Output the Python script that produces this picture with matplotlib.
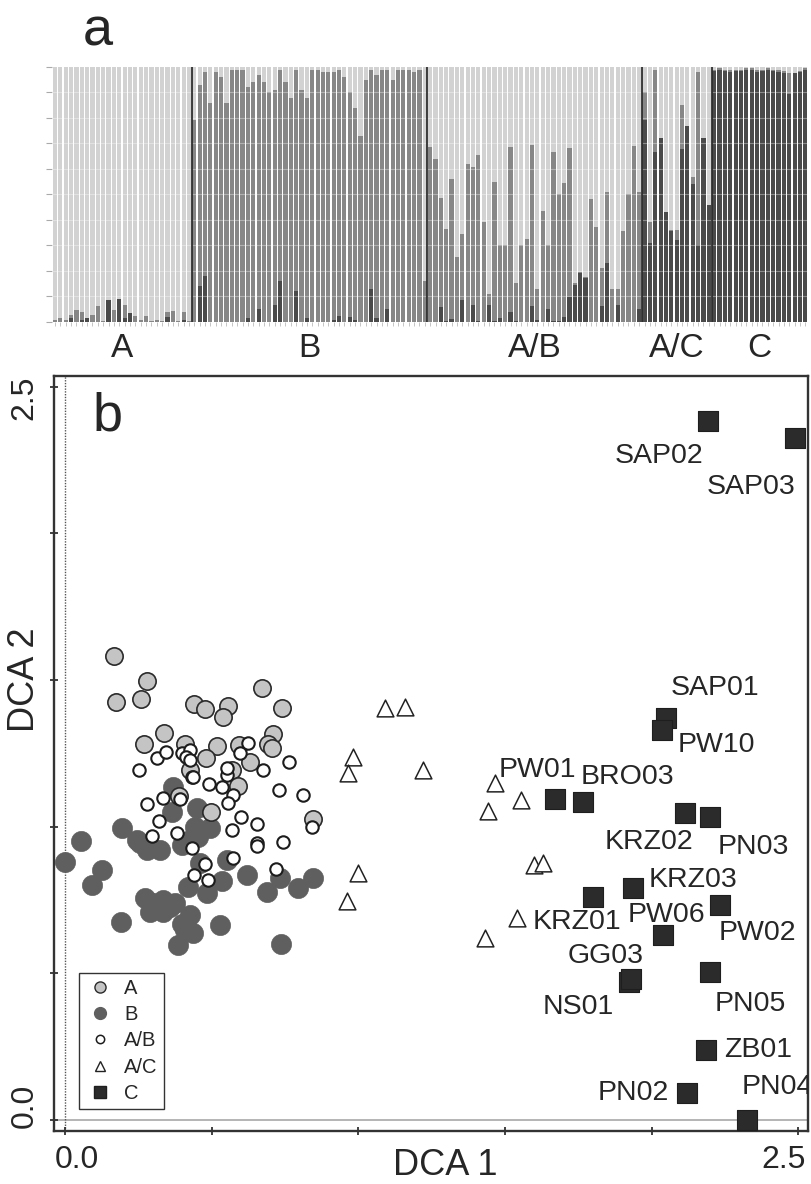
import matplotlib
matplotlib.use('Agg')
import matplotlib.pyplot as plt
from matplotlib.lines import Line2D
import numpy as np

plt.rcParams['font.family'] = ['Liberation Sans', 'DejaVu Sans']

# ---------------- Panel a data (membership fractions) ----------------
group_names = ['A', 'B', 'A/B', 'A/C', 'C']
# dark (cluster C) share and cumulative (C + B) share per individual
grpA_dark = [0, 0, 0, 0.013, 0, 0.007, 0.013, 0, 0, 0, 0.085, 0, 0.089, 0.016, 0.033,
             0, 0, 0, 0, 0, 0, 0.02, 0, 0, 0.007, 0]
grpA_top = [0.007, 0.016, 0.007, 0.026, 0.046, 0.037, 0.013, 0.026, 0.063, 0.003, 0.085,
            0.046, 0.089, 0.065, 0.033, 0.024, 0.007, 0.024, 0.003, 0.005, 0.003, 0.039,
            0.043, 0.003, 0.037, 0.003]
grpB_dark = [0, 0.14, 0.18, 0, 0, 0, 0, 0, 0, 0, 0.013, 0, 0.05, 0, 0, 0.065, 0.16, 0, 0,
             0.12, 0, 0.013, 0, 0, 0, 0, 0.005, 0.022, 0, 0.017, 0.007, 0, 0, 0.127, 0.016,
             0, 0.05, 0, 0, 0, 0, 0, 0, 0]
grpB_top = [0.79, 0.93, 0.98, 0.86, 0.98, 0.96, 0.86, 0.99, 0.99, 0.99, 0.92, 0.94, 0.97,
            0.94, 0.90, 0.91, 0.99, 0.94, 0.88, 0.99, 0.91, 0.88, 0.99, 0.99, 0.98, 0.98,
            0.98, 0.99, 0.96, 0.90, 0.84, 0.73, 0.95, 0.99, 0.97, 0.99, 0.99, 0.95, 0.99,
            0.99, 0.99, 0.98, 0.99, 0.16]
grpAB_dark = [0, 0, 0.059, 0.004, 0.009, 0, 0.085, 0, 0.065, 0.004, 0, 0.065, 0.004, 0.013,
              0, 0.037, 0.004, 0, 0, 0.063, 0.006, 0, 0.048, 0.004, 0.004, 0.02, 0.098,
              0.144, 0.19, 0.17, 0, 0, 0.06, 0.23, 0, 0.065, 0, 0, 0, 0.05]
grpAB_top = [0.687, 0.637, 0.487, 0.364, 0.559, 0.255, 0.343, 0.62, 0.606, 0.653, 0.393,
             0.109, 0.55, 0.30, 0.30, 0.687, 0.15, 0.30, 0.323, 0.694, 0.13, 0.435, 0.30,
             0.667, 0.50, 0.546, 0.683, 0.15, 0.196, 0.177, 0.48, 0.37, 0.21, 0.51, 0.13,
             0.127, 0.357, 0.50, 0.69, 0.51]
grpAC_dark = [0.79, 0.31, 0.665, 0.72, 0.43, 0.355, 0.32, 0.68, 0.77, 0.54, 0.30, 0.72, 0.46]
grpAC_top = [0.90, 0.39, 0.99, 0.72, 0.43, 0.36, 0.36, 0.85, 0.77, 0.57, 0.98, 0.72, 0.46]
grpC_dark = [0.985, 0.99, 0.985, 0.98, 0.985, 0.985, 0.99, 0.99, 0.98, 0.985, 0.99, 0.985,
             0.98, 0.975, 0.895, 0.975, 0.98, 0.99]
grpC_top = [0.99, 0.995, 0.99, 0.99, 0.99, 0.99, 0.995, 0.995, 0.99, 0.99, 0.995, 0.99,
            0.99, 0.985, 0.975, 0.975, 0.985, 0.995]

# ---------------- Panel b data (DCA scores) ----------------
A_x = [0.168, 0.278, 0.174, 0.258, 0.441, 0.478, 0.557, 0.538, 0.673, 0.741, 0.338, 0.270,
       0.409, 0.517, 0.593, 0.708, 0.693, 0.705, 0.481, 0.631, 0.568, 0.426, 0.589, 0.390,
       0.498, 0.847]
A_y = [1.582, 1.497, 1.424, 1.434, 1.420, 1.400, 1.413, 1.375, 1.474, 1.406, 1.320, 1.281,
       1.281, 1.275, 1.278, 1.316, 1.281, 1.270, 1.235, 1.222, 1.193, 1.195, 1.140, 1.105,
       1.051, 1.025]
B_x = [0.000, 0.053, 0.125, 0.091, 0.195, 0.190, 0.369, 0.364, 0.449, 0.256, 0.278, 0.324,
       0.398, 0.443, 0.494, 0.455, 0.460, 0.420, 0.483, 0.534, 0.551, 0.619, 0.688, 0.733,
       0.795, 0.844, 0.273, 0.335, 0.375, 0.290, 0.335, 0.426, 0.438, 0.386, 0.528, 0.735,
       0.398, 0.301, 0.426, 0.358, 0.409, 0.244]
B_y = [0.881, 0.951, 0.852, 0.803, 0.997, 0.676, 1.136, 1.051, 1.063, 0.943, 0.920, 0.920,
       0.938, 1.000, 0.997, 0.966, 0.875, 0.795, 0.773, 0.816, 0.886, 0.835, 0.778, 0.824,
       0.790, 0.824, 0.756, 0.750, 0.739, 0.710, 0.710, 0.699, 0.636, 0.597, 0.665, 0.600,
       0.670, 0.739, 0.955, 0.727, 0.648, 0.955]
AB_x = [0.252, 0.315, 0.343, 0.398, 0.426, 0.413, 0.625, 0.597, 0.676, 0.765, 0.492, 0.534,
        0.551, 0.572, 0.557, 0.432, 0.335, 0.281, 0.322, 0.295, 0.381, 0.600, 0.656, 0.568,
        0.653, 0.656, 0.742, 0.731, 0.813, 0.841, 0.574, 0.477, 0.440, 0.489, 0.719, 0.432,
        0.392, 0.426, 0.551, 0.438]
AB_y = [1.195, 1.233, 1.256, 1.252, 1.261, 1.239, 1.286, 1.250, 1.195, 1.222, 1.145, 1.134,
        1.176, 1.108, 1.080, 1.168, 1.097, 1.076, 1.019, 0.968, 0.977, 1.032, 1.011, 0.989,
        0.945, 0.934, 0.947, 1.125, 1.108, 0.998, 0.895, 0.873, 0.835, 0.818, 0.855, 0.926,
        1.093, 1.227, 1.199, 1.170]
AC_x = [1.091, 1.159, 0.982, 0.965, 1.221, 1.466, 1.442, 1.555, 1.599, 1.630, 0.999, 0.961,
        1.541, 1.432]
AC_y = [1.405, 1.408, 1.238, 1.183, 1.193, 1.149, 1.054, 1.091, 0.869, 0.876, 0.842, 0.747,
        0.689, 0.621]
C_names = ['SAP02', 'SAP03', 'SAP01', 'PW10', 'PW01', 'BRO03', 'KRZ02', 'PN03', 'KRZ03',
           'KRZ01', 'PW02', 'PW06', 'PN05', 'NS01', 'GG03', 'ZB01', 'PN02', 'PN04']
C_x = [2.192, 2.489, 2.049, 2.034, 1.671, 1.766, 2.114, 2.200, 1.937, 1.800, 2.234, 2.039,
       2.199, 1.923, 1.930, 2.185, 2.121, 2.325]
C_y = [2.383, 2.325, 1.371, 1.330, 1.094, 1.084, 1.047, 1.033, 0.791, 0.760, 0.733, 0.631,
       0.506, 0.471, 0.481, 0.239, 0.091, 0.000]
# label offsets (pixels right, pixels down) from each square
C_label_off = [(-49, 35), (-44, 49), (49, -30), (55, 15), (-18, -29), (44, -25), (-36, 29),
               (43, 30), (60, -8), (-16, 25), (37, 28), (3, -20), (40, 32), (-51, 25),
               (-25, -23), (52, 0), (-54, 0), (30, -33)]

W, H = 811, 1184
fig = plt.figure(figsize=(W / 100, H / 100), dpi=100)
txt_col = '#262626'

# ================= Panel a =================
axa = fig.add_axes([52.3 / W, (H - 321.7) / H, (808 - 52.3) / W, 254.7 / H])
darks = [grpA_dark, grpB_dark, grpAB_dark, grpAC_dark, grpC_dark]
tops = [grpA_top, grpB_top, grpAB_top, grpAC_top, grpC_top]
dark_all = np.concatenate([np.array(d, float) for d in darks])
top_all = np.concatenate([np.array(t, float) for t in tops])
n = len(dark_all)
xs = np.arange(n)
c_light, c_mid, c_dark = '#d2d2d2', '#878787', '#4a4a4a'
bw = 0.78
axa.bar(xs, np.ones(n), width=bw, color=c_light, linewidth=0, zorder=1)
axa.bar(xs, top_all - dark_all, bottom=dark_all, width=bw, color=c_mid, linewidth=0, zorder=2)
axa.bar(xs, dark_all, width=bw, color=c_dark, linewidth=0, zorder=3)
for yy in np.arange(0.1, 1.0, 0.1):
    axa.axhline(yy, color='white', lw=0.8, alpha=0.35, zorder=4)

sizes = [len(d) for d in darks]
bounds = np.cumsum(sizes)
for b in bounds[:-1]:
    axa.axvline(b - 0.5, color='#2e2e2e', lw=1.3, zorder=5)
starts = np.concatenate([[0], bounds[:-1]])
for name, s, sz in zip(group_names, starts, sizes):
    axa.text(s + sz / 2 - 0.5, -0.107, name, transform=axa.get_xaxis_transform(),
             ha='center', va='center', fontsize=24, color=txt_col)

axa.set_xlim(-0.5, n - 0.5)
axa.set_ylim(0, 1)
for sp in axa.spines.values():
    sp.set_visible(False)
axa.set_yticks(np.arange(0, 1.01, 0.1))
axa.set_yticklabels([])
axa.set_xticks(xs)
axa.set_xticklabels([])
axa.tick_params(axis='y', length=4.5, width=0.8, color='#aaaaaa', direction='out')
axa.tick_params(axis='x', length=3, width=0.6, color='#bbbbbb', direction='out')

fig.text(83 / W, (H - 45) / H, 'a', fontsize=39, color=txt_col, ha='left', va='baseline')

# ================= Panel b =================
axb = fig.add_axes([54.3 / W, (H - 1130.7) / H, (808 - 54.3) / W, (1130.7 - 376) / H])
axb.set_xlim(-0.0365, 2.533)
axb.set_ylim(-0.0365, 2.537)

axb.axhline(0, color='#a8a8a8', lw=1.2, zorder=0)
axb.axvline(0, color='#555555', lw=1.0, ls=(0, (1, 1)), zorder=0)

axb.scatter(B_x, B_y, s=210, marker='o', facecolor='#5f5f5f', edgecolor='#5f5f5f',
            linewidths=0.5, zorder=2)
axb.scatter(A_x, A_y, s=155, marker='o', facecolor='#c4c4c4', edgecolor='#2a2a2a',
            linewidths=1.2, zorder=3)
axb.scatter(AB_x, AB_y, s=80, marker='o', facecolor='white', edgecolor='#1c1c1c',
            linewidths=1.5, zorder=4)
axb.scatter(AC_x, AC_y, s=145, marker='^', facecolor='white', edgecolor='#222222',
            linewidths=1.1, zorder=4)
axb.scatter(C_x, C_y, s=205, marker='s', facecolor='#2b2b2b', edgecolor='#1e1e1e',
            linewidths=0.8, zorder=5)

for name, x, y, (dx, dy) in zip(C_names, C_x, C_y, C_label_off):
    axb.annotate(name, (x, y), xytext=(dx * 0.72, -dy * 0.72), textcoords='offset points',
                 ha='center', va='center', fontsize=20.5, color=txt_col, clip_on=True,
                 annotation_clip=False, zorder=6)

for sp in axb.spines.values():
    sp.set_color('#333333')
    sp.set_linewidth(1.7)
ticks = np.arange(0, 2.51, 0.5)
axb.set_xticks(ticks)
axb.set_yticks(ticks)
axb.set_xticklabels([])
axb.set_yticklabels([])
axb.tick_params(axis='both', direction='inout', length=6, width=1.3, color='#333333')

# tick labels (placed slightly inward as in the reference)
xt = axb.get_xaxis_transform()
yt = axb.get_yaxis_transform()
axb.text(0.041, -0.039, '0.0', transform=xt, ha='center', va='center', fontsize=23,
         color=txt_col, clip_on=False)
axb.text(2.451, -0.039, '2.5', transform=xt, ha='center', va='center', fontsize=23,
         color=txt_col, clip_on=False)
axb.text(-0.0395, 0.048, '0.0', transform=yt, ha='center', va='center', fontsize=23,
         rotation=90, color=txt_col, clip_on=False)
axb.text(-0.0395, 2.462, '2.5', transform=yt, ha='center', va='center', fontsize=23,
         rotation=90, color=txt_col, clip_on=False)
axb.text(1.296, -0.046, 'DCA 1', transform=xt, ha='center', va='center', fontsize=26,
         color=txt_col, clip_on=False)
axb.text(-0.040, 1.5, 'DCA 2', transform=yt, ha='center', va='center', fontsize=26,
         rotation=90, color=txt_col, clip_on=False)

axb.text(0.051, 0.928, 'b', transform=axb.transAxes, fontsize=39, color=txt_col,
         ha='left', va='baseline')

handles = [
    Line2D([], [], ls='none', marker='o', markersize=8, markerfacecolor='#c4c4c4',
           markeredgecolor='#2a2a2a', markeredgewidth=1.0),
    Line2D([], [], ls='none', marker='o', markersize=8.5, markerfacecolor='#5f5f5f',
           markeredgecolor='#5f5f5f'),
    Line2D([], [], ls='none', marker='o', markersize=6, markerfacecolor='white',
           markeredgecolor='#1c1c1c', markeredgewidth=1.1),
    Line2D([], [], ls='none', marker='^', markersize=7.5, markerfacecolor='white',
           markeredgecolor='#222222', markeredgewidth=1.0),
    Line2D([], [], ls='none', marker='s', markersize=8, markerfacecolor='#2b2b2b',
           markeredgecolor='#1e1e1e'),
]
leg = axb.legend(handles, group_names, loc='lower left', bbox_to_anchor=(0.0328, 0.0288),
                 borderaxespad=0, fontsize=14.5, frameon=True, fancybox=False, framealpha=1,
                 edgecolor='#333333', borderpad=0.3, labelspacing=0.36, handlelength=1.45,
                 handletextpad=0.5)
leg.get_frame().set_linewidth(1.0)
for t in leg.get_texts():
    t.set_color(txt_col)
leg.set_zorder(7)

fig.savefig('out.png', dpi=100)
